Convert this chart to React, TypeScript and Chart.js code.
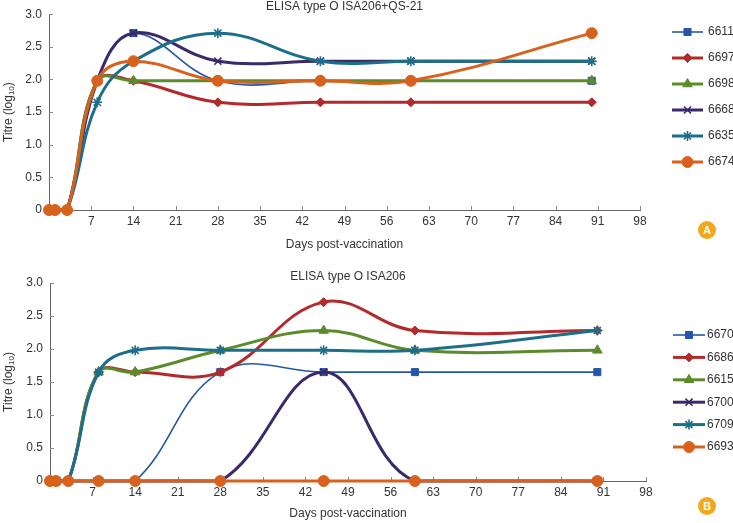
import React, { useEffect, useRef } from 'react';
import { Chart, registerables } from 'chart.js';
import { drawPoint } from 'chart.js/helpers';

Chart.register(...registerables);

// ---------- data ----------
const days = [0, 1, 3, 8, 14, 28, 45, 60, 90];
const xTickValues = [7, 14, 21, 28, 35, 42, 49, 56, 63, 70, 77, 84, 91, 98];
const yTickValues = [0, 0.5, 1, 1.5, 2, 2.5, 3];

const topTitle = 'ELISA type O ISA206+QS-21';
const topNames = ['6611', '6697', '6698', '6668', '6635', '6674'];
const top6611 = [0, 0, 0, 1.98, 2.71, 1.98, 1.98, 1.98, 1.98];
const top6697 = [0, 0, 0, 1.98, 1.98, 1.65, 1.65, 1.65, 1.65];
const top6698 = [0, 0, 0, 1.98, 1.98, 1.98, 1.98, 1.98, 1.98];
const top6668 = [0, 0, 0, 1.98, 2.71, 2.28, 2.28, 2.28, 2.28];
const top6635 = [0, 0, 0, 1.65, 2.28, 2.71, 2.28, 2.28, 2.28];
const top6674 = [0, 0, 0, 1.98, 2.28, 1.98, 1.98, 1.98, 2.71];

const bottomTitle = 'ELISA type O ISA206';
const bottomNames = ['6670', '6686', '6615', '6700', '6709', '6693'];
const bot6670 = [0, 0, 0, 0, 0, 1.65, 1.65, 1.65, 1.65];
const bot6686 = [0, 0, 0, 1.65, 1.65, 1.65, 2.71, 2.28, 2.28];
const bot6615 = [0, 0, 0, 1.65, 1.65, 1.98, 2.28, 1.98, 1.98];
const bot6700 = [0, 0, 0, 0, 0, 0, 1.65, 0, 0];
const bot6709 = [0, 0, 0, 1.65, 1.98, 1.98, 1.98, 1.98, 2.28];
const bot6693 = [0, 0, 0, 0, 0, 0, 0, 0, 0];

const xTitle = 'Days post-vaccination';

// ---------- styles ----------
const colors = ['#2458a6', '#b22a2c', '#5b8b2b', '#3a2a6c', '#1d6e8b', '#d8611d'];
const lineWidths = [1.6, 3, 3, 3, 3, 3];
const pointStyles = ['rect', 'rectRot', 'triangle', 'crossRot', 'star', 'circle'];
const pointRadii = [5, 4.5, 5.5, 5, 5, 5.5];
const pointBorders = [1, 1, 1, 1.6, 1.6, 1];
const FONT = '"Liberation Sans", Arial, sans-serif';
const TEXT = '#333333';

function makePlugin(cfg: any) {
  return {
    id: 'decor',
    beforeDatasetsDraw(chart: any) {
      const ctx = chart.ctx;
      const { left, bottom } = chart.chartArea;
      const xs = chart.scales.x;
      const ys = chart.scales.y;
      ctx.save();
      ctx.strokeStyle = '#8a8a8a';
      ctx.lineWidth = 1;
      xTickValues.forEach((v) => {
        const px = Math.round(xs.getPixelForValue(v)) + 0.5;
        ctx.beginPath();
        ctx.moveTo(px, bottom);
        ctx.lineTo(px, bottom - 4);
        ctx.stroke();
      });
      yTickValues.forEach((v) => {
        if (v === 0) return;
        const py = Math.round(ys.getPixelForValue(v)) + 0.5;
        ctx.beginPath();
        ctx.moveTo(left, py);
        ctx.lineTo(left + 4, py);
        ctx.stroke();
      });
      ctx.restore();
    },
    afterDraw(chart: any) {
      const ctx = chart.ctx;
      const { left, right, top, bottom } = chart.chartArea;
      ctx.save();
      ctx.fillStyle = TEXT;
      ctx.font = '12px ' + FONT;
      ctx.textAlign = 'center';
      ctx.textBaseline = 'middle';
      ctx.fillText(cfg.title, (left + right) / 2, cfg.titleY);
      ctx.fillText(xTitle, (left + right) / 2, cfg.xTitleY);

      // y title with subscript
      const cy = (top + bottom) / 2;
      ctx.save();
      ctx.translate(9, cy);
      ctx.rotate(-Math.PI / 2);
      ctx.textAlign = 'left';
      ctx.font = '12px ' + FONT;
      const w1 = ctx.measureText('Titre (log').width;
      const w3 = ctx.measureText(')').width;
      ctx.font = '8px ' + FONT;
      const w2 = ctx.measureText('10').width;
      const x0 = -(w1 + w2 + w3) / 2;
      ctx.font = '12px ' + FONT;
      ctx.fillText('Titre (log', x0, 0);
      ctx.font = '8px ' + FONT;
      ctx.fillText('10', x0 + w1, 3);
      ctx.font = '12px ' + FONT;
      ctx.fillText(')', x0 + w1 + w2, 0);
      ctx.restore();

      // legend
      chart.data.datasets.forEach((ds: any, i: number) => {
        const y = cfg.legendY0 + i * cfg.legendStep;
        ctx.strokeStyle = ds.borderColor;
        ctx.lineWidth = ds.borderWidth;
        ctx.beginPath();
        ctx.moveTo(cfg.legendX0, y);
        ctx.lineTo(cfg.legendX1, y);
        ctx.stroke();
        ctx.fillStyle = ds.backgroundColor;
        ctx.strokeStyle = ds.borderColor;
        ctx.lineWidth = ds.pointBorderWidth;
        drawPoint(ctx, { pointStyle: ds.pointStyle, radius: ds.pointRadius, rotation: 0, borderWidth: ds.pointBorderWidth }, (cfg.legendX0 + cfg.legendX1) / 2, y);
        ctx.fillStyle = TEXT;
        ctx.font = '12px ' + FONT;
        ctx.textAlign = 'left';
        ctx.textBaseline = 'middle';
        ctx.fillText(ds.label, cfg.legendTextX, y);
      });

      // badge
      ctx.fillStyle = '#f2a81c';
      ctx.beginPath();
      ctx.arc(cfg.badgeX, cfg.badgeY, 9, 0, Math.PI * 2);
      ctx.fill();
      ctx.fillStyle = '#ffffff';
      ctx.font = 'bold 11px ' + FONT;
      ctx.textAlign = 'center';
      ctx.textBaseline = 'middle';
      ctx.fillText(cfg.badge, cfg.badgeX, cfg.badgeY + 0.5);
      ctx.restore();
    },
  };
}

function ElisaChart({ names, series, cfg }: any) {
  const ref = useRef<HTMLCanvasElement>(null);
  useEffect(() => {
    if (!ref.current) return;
    const chart = new Chart(ref.current, {
      type: 'line',
      data: {
        datasets: series.map((vals: number[], i: number) => ({
          label: names[i],
          data: days.map((d, j) => ({ x: d, y: vals[j] })),
          borderColor: colors[i],
          backgroundColor: colors[i],
          borderWidth: lineWidths[i],
          pointStyle: pointStyles[i],
          pointRadius: pointRadii[i],
          pointBorderWidth: pointBorders[i],
          pointBackgroundColor: colors[i],
          pointBorderColor: colors[i],
          tension: 0.4,
          clip: false,
          order: names.length - i,
        })),
      },
      options: {
        responsive: false,
        animation: false,
        devicePixelRatio: 1,
        layout: { padding: { left: 0, right: cfg.padRight, top: cfg.padTop, bottom: 0 } },
        plugins: { legend: { display: false }, tooltip: { enabled: false }, title: { display: false } },
        scales: {
          x: {
            type: 'linear',
            min: 0,
            max: 98,
            afterBuildTicks: (s: any) => {
              s.ticks = xTickValues.map((v) => ({ value: v }));
            },
            afterFit: (s: any) => {
              s.height = cfg.xAxisH;
            },
            ticks: { color: TEXT, font: { family: FONT, size: 12 }, padding: 4, autoSkip: false, maxRotation: 0 },
            grid: { display: true, drawOnChartArea: false, drawTicks: false },
            border: { display: true, color: '#666666', width: 1 },
          },
          y: {
            type: 'linear',
            min: 0,
            max: 3,
            afterBuildTicks: (s: any) => {
              s.ticks = yTickValues.map((v) => ({ value: v }));
            },
            afterFit: (s: any) => {
              s.width = cfg.yAxisW;
            },
            ticks: {
              color: TEXT,
              font: { family: FONT, size: 12 },
              padding: 7,
              callback: (v: any) => (v === 0 ? '0' : Number(v).toFixed(1)),
            },
            grid: { display: true, drawOnChartArea: false, drawTicks: false },
            border: { display: true, color: '#666666', width: 1 },
          },
        },
      },
      plugins: [makePlugin(cfg)],
    } as any);
    return () => chart.destroy();
  }, []);
  return (
    <canvas
      ref={ref}
      width={733}
      height={cfg.height}
      style={{ position: 'absolute', left: 0, top: cfg.offsetY, width: 733, height: cfg.height }}
    />
  );
}

const topCfg = {
  title: topTitle,
  height: 255,
  offsetY: 0,
  padTop: 9,
  padRight: 93,
  xAxisH: 45,
  yAxisW: 49,
  titleY: 7,
  xTitleY: 245,
  legendY0: 32,
  legendStep: 26,
  legendX0: 672,
  legendX1: 703,
  legendTextX: 708,
  badge: 'A',
  badgeX: 707,
  badgeY: 230,
};

const bottomCfg = {
  title: bottomTitle,
  height: 268,
  offsetY: 255,
  padTop: 28,
  padRight: 87,
  xAxisH: 42,
  yAxisW: 50,
  titleY: 22,
  xTitleY: 259,
  legendY0: 80,
  legendStep: 22.4,
  legendX0: 673,
  legendX1: 705,
  legendTextX: 707,
  badge: 'B',
  badgeX: 707,
  badgeY: 251,
};

export default function App() {
  return (
    <div style={{ position: 'fixed', left: 0, top: 0, width: 733, height: 523, background: '#ffffff' }}>
      <ElisaChart names={topNames} series={[top6611, top6697, top6698, top6668, top6635, top6674]} cfg={topCfg} />
      <ElisaChart
        names={bottomNames}
        series={[bot6670, bot6686, bot6615, bot6700, bot6709, bot6693]}
        cfg={bottomCfg}
      />
    </div>
  );
}
